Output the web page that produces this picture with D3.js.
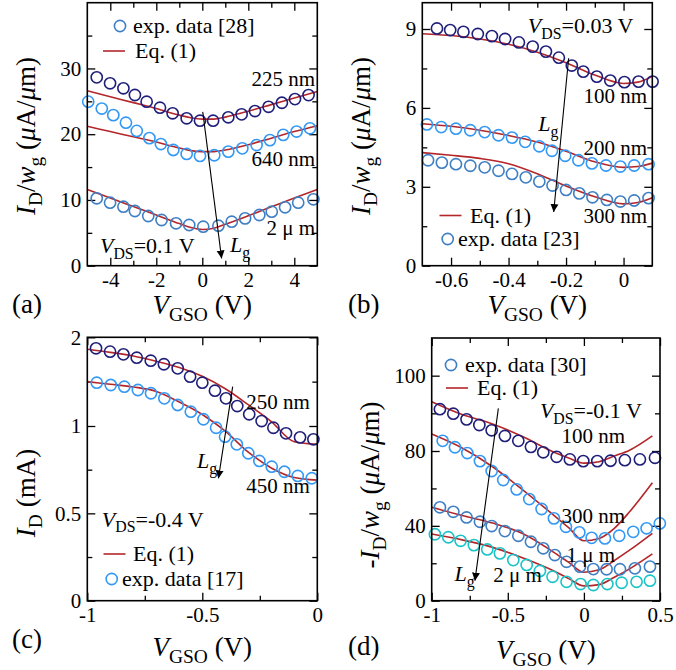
<!DOCTYPE html>
<html>
<head>
<meta charset="utf-8">
<script src="https://cdn.jsdelivr.net/npm/d3@7"></script>
<style>
  body { margin: 0; background: #fff; }
  svg text { font-family: "Liberation Serif", "Times New Roman", Times, serif; fill: #000; }
</style>
</head>
<body>
<div id="container"></div>
<script>

// ---------- data: panel (a) ----------
var aExpV225 = [-4.59,-4.01,-3.43,-2.93,-2.42,-1.84,-1.29,-0.68,-0.10,0.47,1.13,1.71,2.29,2.88,3.46,4.03,4.62];
var aExp225  = [28.65,27.74,26.98,25.96,24.94,24.03,23.18,22.42,22.05,22.05,22.57,23.02,23.52,24.17,24.78,25.34,25.95];
var aExpV640 = [-4.96,-4.37,-3.87,-3.32,-2.85,-2.30,-1.80,-1.26,-0.68,-0.10,0.52,1.13,1.74,2.36,2.94,3.52,4.10,4.68];
var aExp640  = [24.95,23.9,22.9,21.75,20.5,19.4,18.5,17.6,17.0,16.7,16.8,17.35,17.85,18.35,19.1,19.9,20.4,20.9];
var aExpV2um = [-4.59,-4.01,-3.43,-2.93,-2.35,-1.77,-1.14,-0.57,0.04,0.70,1.28,1.86,2.48,3.02,3.60,4.17,4.83];
var aExp2um  = [10.25,9.58,8.97,8.32,7.56,6.95,6.45,6.19,5.93,6.08,6.69,7.2,7.71,8.21,8.88,9.58,10.1];
var aFitV    = [-5,-4,-3,-2,-1,-0.5,0,0.5,1,2,3,4,5];
var aFit225  = [26.6,25.7,24.8,23.9,22.9,22.5,22.3,22.3,22.6,23.5,24.5,25.5,26.5];
var aFit640  = [21.2,20.4,19.6,18.8,17.9,17.5,17.35,17.35,17.6,18.4,19.4,20.4,21.3];
var aFit2um  = [11.6,10.3,9.0,7.7,6.4,5.8,5.5,5.7,6.3,7.6,8.95,10.3,11.6];
var aTickX = [-4,-2,0,2,4], aMinorX = [-3,-1,1,3];
var aTickY = [0,10,20,30], aMinorY = [5,15,25,35];

// ---------- data: panel (b) ----------
var bExpV100 = [-0.649,-0.603,-0.557,-0.507,-0.458,-0.412,-0.364,-0.316,-0.270,-0.225,-0.180,-0.140,-0.093,-0.046,0.003,0.052,0.101];
var bExp100  = [9.02,8.96,8.89,8.81,8.73,8.62,8.49,8.33,8.14,7.91,7.61,7.38,7.19,7.04,6.98,7.0,7.0];
var bExpV200 = [-0.684,-0.634,-0.583,-0.533,-0.483,-0.435,-0.388,-0.342,-0.293,-0.249,-0.203,-0.157,-0.110,-0.061,-0.011,0.037,0.087];
var bExp200  = [5.37,5.27,5.21,5.15,5.08,4.96,4.87,4.71,4.54,4.37,4.18,4.01,3.89,3.81,3.77,3.81,3.86];
var bExpV300 = [-0.680,-0.632,-0.583,-0.533,-0.483,-0.435,-0.388,-0.340,-0.293,-0.247,-0.200,-0.154,-0.108,-0.058,-0.011,0.037,0.087];
var bExp300  = [4.01,3.92,3.86,3.8,3.74,3.61,3.49,3.36,3.20,3.05,2.88,2.75,2.60,2.50,2.44,2.48,2.57];
var bFitV    = [-0.7,-0.6,-0.5,-0.4,-0.3,-0.2,-0.1,0,0.05,0.1];
var bFit100  = [8.82,8.75,8.62,8.42,8.12,7.72,7.25,6.93,6.98,7.2];
var bFit200  = [5.4,5.3,5.15,4.95,4.7,4.35,3.95,3.74,3.77,3.9];
var bFit300  = [4.3,4.2,4.08,3.88,3.5,3.03,2.62,2.35,2.4,2.58];
var bTickX = [-0.6,-0.4,-0.2,0], bMinorX = [-0.5,-0.3,-0.1];
var bTickY = [0,3,6,9], bMinorY = [1.5,4.5,7.5];

// ---------- data: panel (c) ----------
var cExpV250 = [-0.962,-0.901,-0.843,-0.785,-0.724,-0.667,-0.607,-0.553,-0.5,-0.445,-0.397,-0.348,-0.296,-0.242,-0.191,-0.136,-0.075,-0.017];
var cExp250  = [1.876,1.838,1.808,1.77,1.736,1.696,1.65,1.556,1.488,1.398,1.312,1.225,1.132,1.056,0.99,0.958,0.935,0.924];
var cExpV450 = [-0.959,-0.898,-0.839,-0.780,-0.723,-0.665,-0.607,-0.550,-0.495,-0.440,-0.401,-0.350,-0.300,-0.252,-0.198,-0.143,-0.085,-0.024];
var cExp450  = [1.488,1.462,1.443,1.406,1.369,1.312,1.237,1.161,1.076,0.99,0.939,0.895,0.844,0.8,0.767,0.738,0.714,0.701];
var cFitV    = [-1,-0.9,-0.8,-0.7,-0.6,-0.5,-0.4,-0.3,-0.2,-0.1,0];
var cFit250  = [1.865,1.83,1.79,1.73,1.66,1.56,1.42,1.24,1.05,0.91,0.895];
var cFit450  = [1.5,1.47,1.44,1.39,1.27,1.13,0.97,0.85,0.76,0.705,0.69];
var cTickX = [-1,-0.5,0], cMinorX = [-0.75,-0.25];
var cTickY = [0,0.5,1,2], cMinorY = [0.25,0.75,1.5];

// ---------- data: panel (d) ----------
var dExpV100 = [-0.946,-0.858,-0.771,-0.687,-0.606,-0.519,-0.431,-0.348,-0.267,-0.179,-0.092,-0.004,0.088,0.175,0.269,0.368,0.467];
var dExp100  = [91.1,89.9,88.4,86.9,85.5,84.0,82.7,81.1,79.3,76.9,75.5,74.6,74.6,74.8,75.1,75.5,76.4];
var dExpV300 = [-0.928,-0.847,-0.766,-0.683,-0.606,-0.530,-0.442,-0.359,-0.278,-0.197,-0.118,-0.030,0.051,0.138,0.232,0.324,0.412,0.499];
var dExp300  = [82.7,81.0,78.9,74.6,69.3,64.5,59.5,54.3,49.0,44.0,39.5,36.5,33.6,33.3,34.7,36.8,38.7,41.3];
var dExpV1um = [-0.946,-0.858,-0.771,-0.683,-0.606,-0.519,-0.431,-0.348,-0.267,-0.191,-0.114,-0.026,0.062,0.149,0.237,0.335,0.434];
var dExp1um  = [49.9,47.5,44.5,42.2,39.9,37.2,34.7,31.5,28.0,24.4,20.8,18.2,16.9,16.8,16.8,17.3,18.2];
var dExpV2um = [-0.979,-0.891,-0.810,-0.723,-0.635,-0.552,-0.464,-0.376,-0.289,-0.206,-0.114,-0.022,0.062,0.154,0.248,0.346,0.434];
var dExp2um  = [35.5,33.9,32.0,29.7,27.4,25.3,21.7,19.1,15.9,12.8,10.1,8.9,8.4,8.9,9.6,10.1,10.7];
var dFitV    = [-1,-0.8,-0.6,-0.4,-0.2,-0.1,0,0.1,0.2,0.3,0.45];
var dFit100  = [93.1,89.7,87.2,83.8,79.5,76.3,73.5,74.3,77.3,80.2,84.0];
var dFit300  = [84.5,80.8,71.6,59.1,45.8,39.0,32.0,33.3,38.7,47.5,63.0];
var dFit1um  = [49.9,45.5,41.5,35.8,26.0,20.5,15.2,16.5,21.5,27.0,36.0];
var dFit2um  = [35.6,32.5,28.5,22.8,16.0,11.8,7.9,8.6,12.5,17.0,25.0];
var dTickX = [-1,-0.5,0,0.5], dMinorX = [-0.75,-0.25,0.25];
var dTickY = [0,40,80,100], dMinorY = [20,60,90];

var navy = "#1f1f7a", lightBlue = "#3399f5", steelBlue = "#3f7fc4", cyan = "#19c4c8", red = "#b3262a";
var serif = "'Liberation Serif', 'Times New Roman', Times, serif";

var svg = d3.select("#container").append("svg")
  .attr("width", 676).attr("height", 670)
  .style("font-family", serif);

svg.append("defs").append("marker")
  .attr("id", "head")
  .attr("viewBox", "0 0 10 10")
  .attr("refX", 10).attr("refY", 5)
  .attr("markerUnits", "userSpaceOnUse")
  .attr("markerWidth", 8).attr("markerHeight", 14)
  .attr("orient", "auto")
  .append("path").attr("d", "M0,0 L10,5 L0,10 z").attr("fill", "#000");

// text made of pieces: {t, i: italic, sub: subscript}
function richText(g, x, y, parts, size, anchor){
  var t = g.append("text")
    .attr("x", x).attr("y", y)
    .style("font-size", size + "px")
    .attr("text-anchor", anchor || "start");
  var shifted = false;
  parts.forEach(function(p){
    var s = t.append("tspan").text(p.t);
    if(p.i) s.style("font-style", "italic");
    if(p.sub){
      s.style("font-size", (size*0.72) + "px");
      if(!shifted){ s.attr("dy", size*0.26); shifted = true; }
    }else if(shifted){
      s.attr("dy", -size*0.26); shifted = false;
    }
  });
  return t;
}

function panel(cfg){
  var g = svg.append("g");
  var x = cfg.x, y = cfg.y;
  var x0 = x.range()[0], x1 = x.range()[1];
  var yr = y.range(), y0 = yr[yr.length-1], y1 = yr[0];

  // ticks, inward on all four sides
  function ax(axisFn, scale, vals, len, tx, ty, labels){
    var a = axisFn(scale).tickValues(vals).tickSize(len).tickPadding(6);
    if(labels) a.tickFormat(function(d,i){ return labels[i]; });
    else a.tickFormat("");
    var s = g.append("g").attr("transform", "translate(" + tx + "," + ty + ")").call(a);
    s.attr("font-family", null).attr("font-size", null);
    s.select(".domain").remove();
    s.selectAll("line").attr("stroke", "#000").attr("stroke-width", 1.3);
    s.selectAll("text").style("font-size", "21px").attr("fill", "#000");
    return s;
  }
  ax(d3.axisBottom, x, cfg.tickX, -8, 0, y1, cfg.tickX.map(String));
  ax(d3.axisBottom, x, cfg.minorX, -5, 0, y1);
  ax(d3.axisTop, x, cfg.tickX, -8, 0, y0);
  ax(d3.axisTop, x, cfg.minorX, -5, 0, y0);
  ax(d3.axisLeft, y, cfg.tickY, -8, x0, 0, cfg.tickY.map(String));
  ax(d3.axisLeft, y, cfg.minorY, -5, x0, 0);
  ax(d3.axisRight, y, cfg.tickY, -8, x1, 0);
  ax(d3.axisRight, y, cfg.minorY, -5, x1, 0);

  // fitted curves
  var line = d3.line().curve(d3.curveMonotoneX)
    .x(function(d){ return x(d[0]); })
    .y(function(d){ return y(d[1]); });
  cfg.fits.forEach(function(f){
    g.append("path")
      .datum(cfg.fitV.map(function(v,i){ return [v, f[i]]; }))
      .attr("d", line)
      .attr("fill", "none")
      .attr("stroke", red)
      .attr("stroke-width", 1.6);
  });

  // measured points
  cfg.exps.forEach(function(e){
    g.append("g").selectAll("circle")
      .data(e.v.map(function(v,i){ return [v, e.y[i]]; }))
      .enter()
      .append("circle")
      .attr("cx", function(d){ return x(d[0]); })
      .attr("cy", function(d){ return y(d[1]); })
      .attr("r", 5.6)
      .style("fill", "none")
      .style("stroke", e.c)
      .style("stroke-width", 1.6);
  });

  // frame
  g.append("rect")
    .attr("x", x0).attr("y", y0)
    .attr("width", x1-x0).attr("height", y1-y0)
    .attr("fill", "none").attr("stroke", "#000").attr("stroke-width", 1.6);

  // L_g arrow
  g.append("line")
    .attr("x1", x(cfg.arrow[0])).attr("y1", y(cfg.arrow[1]))
    .attr("x2", x(cfg.arrow[2])).attr("y2", y(cfg.arrow[3]))
    .attr("stroke", "#000").attr("stroke-width", 1.1)
    .attr("marker-end", "url(#head)");
  richText(g, x(cfg.lg[0]), y(cfg.lg[1]), [{t:"L", i:true}, {t:"g", sub:true}], 22);

  // curve labels
  cfg.notes.forEach(function(n){
    g.append("text")
      .attr("x", x(n[0])).attr("y", y(n[1]))
      .style("font-size", "21px")
      .attr("text-anchor", n[3] || "start")
      .text(n[2]);
  });
  richText(g, x(cfg.vds[0]), y(cfg.vds[1]),
    [{t:"V", i:true}, {t:"DS", sub:true}, {t:cfg.vds[2]}], 22);

  // legend: symbol centre sx, text start tx, baseline ty
  cfg.legend.forEach(function(l){
    if(l.kind == "o"){
      g.append("circle").attr("cx", l.sx).attr("cy", l.ty-7).attr("r", 5.6)
        .style("fill", "none").style("stroke", l.c).style("stroke-width", 1.6);
    }else{
      g.append("line").attr("x1", l.sx-11).attr("x2", l.sx+11).attr("y1", l.ty-7).attr("y2", l.ty-7)
        .attr("stroke", red).attr("stroke-width", 1.6);
    }
    g.append("text").attr("x", l.tx).attr("y", l.ty)
      .style("font-size", "22px").text(l.t);
  });

  // axis titles and panel letter
  richText(g, (x0+x1)/2, cfg.xTitleY,
    [{t:"V", i:true}, {t:"GSO", sub:true}, {t:" (V)"}], 27, "middle");
  var yt = g.append("g").attr("transform", "translate(" + cfg.yTitle[0] + "," + cfg.yTitle[1] + ") rotate(-90)");
  richText(yt, 0, 0, cfg.yTitleParts, 27, "middle");
  g.append("text").attr("x", cfg.letter[0]).attr("y", cfg.letter[1])
    .style("font-size", "27px").text(cfg.letter[2]);
}

var muA = [{t:" ("}, {t:"\u03bc", i:true}, {t:"A/"}, {t:"\u03bc", i:true}, {t:"m)"}];

panel({
  x: d3.scaleLinear().domain([-5,5]).range([87.3,317.3]),
  y: d3.scaleLinear().domain([0,40]).range([265.7,2.7]),
  tickX: aTickX, minorX: aMinorX, tickY: aTickY, minorY: aMinorY,
  fitV: aFitV, fits: [aFit225, aFit640, aFit2um],
  exps: [{v:aExpV225, y:aExp225, c:navy}, {v:aExpV640, y:aExp640, c:lightBlue}, {v:aExpV2um, y:aExp2um, c:steelBlue}],
  arrow: [0.02, 23.4, 0.84, 1.1], lg: [1.2, 2.1],
  notes: [[4.9, 27.3, "225 nm", "end"], [4.9, 15.2, "640 nm", "end"], [4.9, 4.67, "2 \u03bc m", "end"]],
  vds: [-4.45, 1.93, "=0.1 V"],
  legend: [{kind:"o", sx:120, tx:133, ty:33, c:steelBlue, t:"exp. data [28]"},
           {kind:"l", sx:114, tx:135, ty:58, t:"Eq. (1)"}],
  xTitleY: 314, yTitle: [35, 136],
  yTitleParts: [{t:"I", i:true}, {t:"D", sub:true}, {t:"/"}, {t:"w", i:true}, {t:"g", sub:true}].concat(muA),
  letter: [12, 313, "(a)"]
});

panel({
  x: d3.scaleLinear().domain([-0.7,0.1]).range([422.3,652.3]),
  y: d3.scaleLinear().domain([0,10]).range([265.7,2.7]),
  tickX: bTickX, minorX: bMinorX, tickY: bTickY, minorY: bMinorY,
  fitV: bFitV, fits: [bFit100, bFit200, bFit300],
  exps: [{v:bExpV100, y:bExp100, c:navy}, {v:bExpV200, y:bExp200, c:lightBlue}, {v:bExpV300, y:bExp300, c:steelBlue}],
  arrow: [-0.191, 7.89, -0.243, 2.04], lg: [-0.297, 5.12],
  notes: [[0.082, 6.19, "100 nm", "end"], [0.082, 4.22, "200 nm", "end"], [0.082, 1.62, "300 nm", "end"]],
  vds: [-0.333, 8.83, "=0.03 V"],
  legend: [{kind:"l", sx:450.5, tx:470, ty:222.5, t:"Eq. (1)"},
           {kind:"o", sx:447.7, tx:458, ty:246, c:steelBlue, t:"exp. data [23]"}],
  xTitleY: 314, yTitle: [370, 136],
  yTitleParts: [{t:"I", i:true}, {t:"D", sub:true}, {t:"/"}, {t:"w", i:true}, {t:"g", sub:true}].concat(muA),
  letter: [348, 313, "(b)"]
});

panel({
  x: d3.scaleLinear().domain([-1,0]).range([87.3,317.3]),
  y: d3.scaleLinear().domain([0,1,2]).range([600.7,426,337.3]),
  tickX: cTickX, minorX: cMinorX, tickY: cTickY, minorY: cMinorY,
  fitV: cFitV, fits: [cFit250, cFit450],
  exps: [{v:cExpV250, y:cExp250, c:navy}, {v:cExpV450, y:cExp450, c:lightBlue}],
  arrow: [-0.368, 1.443, -0.43, 0.70], lg: [-0.523, 0.76],
  notes: [[-0.032, 1.19, "250 nm", "end"], [-0.032, 0.615, "450 nm", "end"]],
  vds: [-0.937, 0.424, "=-0.4 V"],
  legend: [{kind:"l", sx:114.5, tx:133, ty:561, t:"Eq. (1)"},
           {kind:"o", sx:111.7, tx:122, ty:586, c:lightBlue, t:"exp. data [17]"}],
  xTitleY: 656, yTitle: [35, 493],
  yTitleParts: [{t:"I", i:true}, {t:"D", sub:true}, {t:" (mA)"}],
  letter: [12, 648, "(c)"]
});

panel({
  x: d3.scaleLinear().domain([-1,0.5]).range([431.7,660]),
  y: d3.scaleLinear().domain([0,80,110]).range([600.7,451,338]),
  tickX: dTickX, minorX: dMinorX, tickY: dTickY, minorY: dMinorY,
  fitV: dFitV, fits: [dFit100, dFit300, dFit1um, dFit2um],
  exps: [{v:dExpV100, y:dExp100, c:navy}, {v:dExpV300, y:dExp300, c:lightBlue},
         {v:dExpV1um, y:dExp1um, c:steelBlue}, {v:dExpV2um, y:dExp2um, c:cyan}],
  arrow: [-0.562, 91.3, -0.716, 10.7], lg: [-0.85, 10.5],
  notes: [[-0.147, 82.0, "100 nm"], [-0.147, 41.3, "300 nm"], [-0.114, 20.8, "1 \u03bc m"], [-0.595, 10.1, "2 \u03bc m"]],
  vds: [-0.289, 88.7, "=-0.1 V"],
  legend: [{kind:"o", sx:451, tx:465, ty:372, c:steelBlue, t:"exp. data [30]"},
           {kind:"l", sx:457, tx:477, ty:395, t:"Eq. (1)"}],
  xTitleY: 659, yTitle: [379, 485],
  yTitleParts: [{t:"-"}, {t:"I", i:true}, {t:"D", sub:true}, {t:"/"}, {t:"w", i:true}, {t:"g", sub:true}].concat(muA),
  letter: [348, 655, "(d)"]
});

</script>
</body>
</html>
